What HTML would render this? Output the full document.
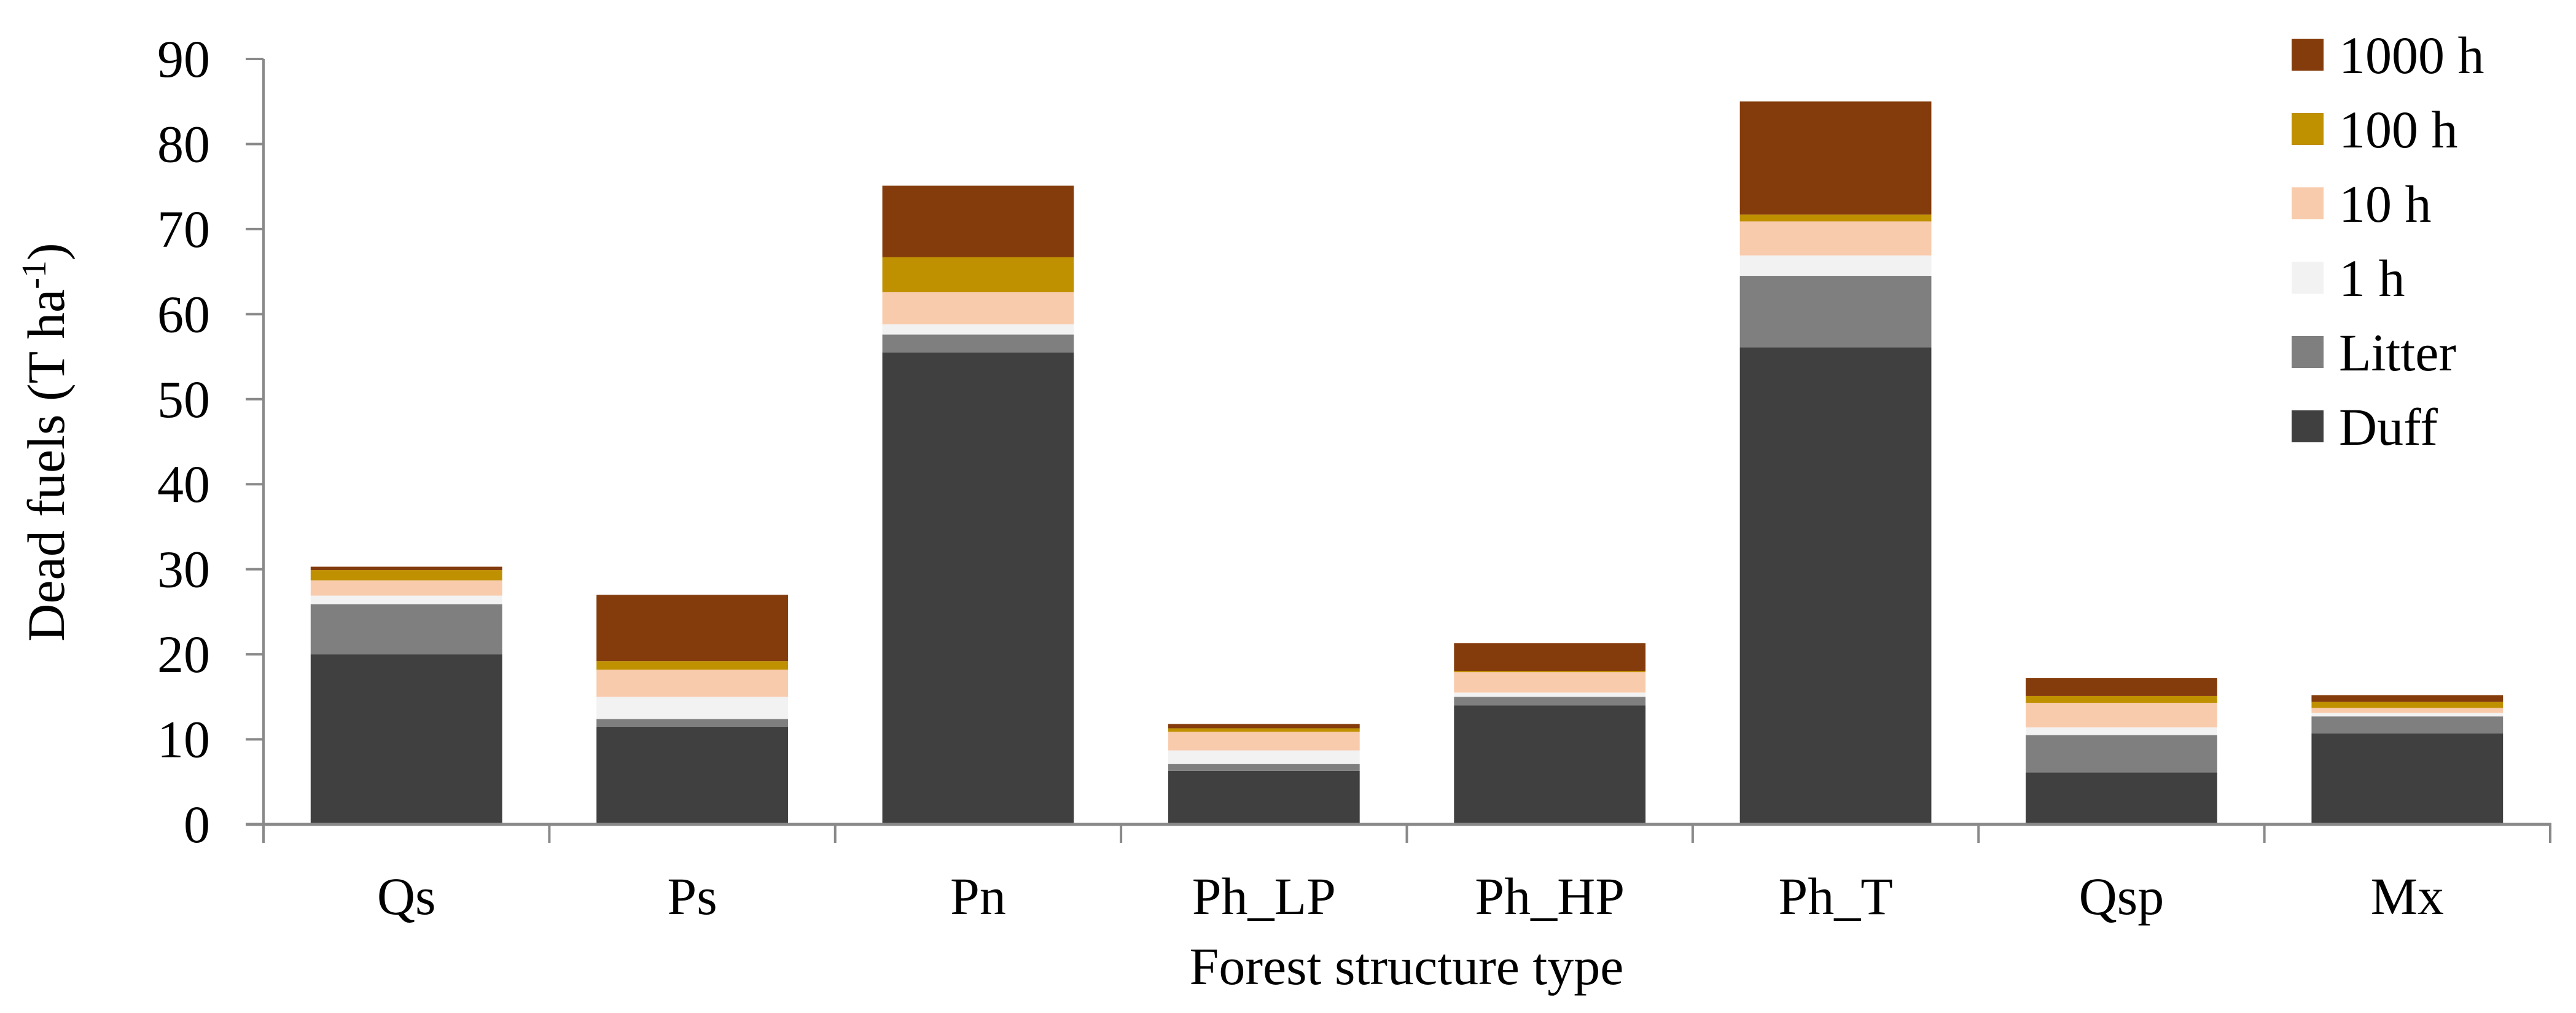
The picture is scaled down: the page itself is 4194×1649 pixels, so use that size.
<!DOCTYPE html>
<html><head><meta charset="utf-8"><style>
html,body{margin:0;padding:0;background:#fff;}
svg{display:block;font-family:"Liberation Serif",serif;}
</style></head><body>
<svg id="chart" width="4194" height="1649" viewBox="0 0 4194 1649" xmlns="http://www.w3.org/2000/svg">
<g id="bars"></g>
<g id="axes"></g>
<g id="legend"></g>
<text transform="translate(104,720) rotate(-90)" text-anchor="middle" font-size="86">Dead fuels (T  ha<tspan font-size="56" dy="-30">-1</tspan><tspan dy="30">)</tspan></text>
<text x="2290" y="1602" text-anchor="middle" font-size="86">Forest structure type</text>
</svg>
<script>
const categories = ["Qs","Ps","Pn","Ph_LP","Ph_HP","Ph_T","Qsp","Mx"];
const seriesNames = ["Duff","Litter","1 h","10 h","100 h","1000 h"];
const duff   = [20.0, 11.5, 55.5, 6.3, 14.0, 56.1, 6.1, 10.7];
const litter = [5.9, 0.9, 2.1, 0.8, 1.0, 8.4, 4.4, 2.0];
const oneH   = [1.0, 2.6, 1.2, 1.6, 0.5, 2.4, 0.9, 0.4];
const tenH   = [1.8, 3.2, 3.8, 2.2, 2.4, 4.0, 2.9, 0.6];
const hundredH = [1.2, 1.0, 4.1, 0.4, 0.15, 0.8, 0.8, 0.7];
const thousandH = [0.4, 7.8, 8.4, 0.5, 3.25, 13.3, 2.1, 0.8];
const yTicks = [0,10,20,30,40,50,60,70,80,90];
const series = [duff, litter, oneH, tenH, hundredH, thousandH];
const colors = ["#404040","#7f7f7f","#f2f2f2","#f8cbad","#bf9000","#843c0c"];

const NS="http://www.w3.org/2000/svg";
const X0=429, X1=4152, Y0=1342, Y90=96;
const bandW=(X1-X0)/categories.length;
const barW=bandW*0.67;
function yScale(v){return Y0-(v/90)*(Y0-Y90);}
function xBand(i){return X0+i*bandW;}
function mk(tag,attrs,parent){const e=document.createElementNS(NS,tag);for(const k in attrs)e.setAttribute(k,attrs[k]);parent.appendChild(e);return e;}

const gb=document.getElementById('bars');
categories.forEach((c,i)=>{
  let cum=0;
  series.forEach((s,j)=>{
    const v=s[i];
    const yTop=yScale(cum+v), yBot=yScale(cum);
    const r=mk('rect',{x:xBand(i)+(bandW-barW)/2,y:yTop,width:barW,height:Math.max(0,yBot-yTop),fill:colors[j]},gb);
    
    
    cum+=v;
  });
});

const ga=document.getElementById('axes');
const yl=mk('line',{x1:X0,y1:Y90,x2:X0,y2:Y0,stroke:'#898989','stroke-width':4},ga);


yTicks.forEach(t=>{
  const y=yScale(t);
  const tl=mk('line',{x1:400,y1:y,x2:X0,y2:y,stroke:'#898989','stroke-width':4},ga);
  
  
  const tx=mk('text',{x:342,y:y+29,'text-anchor':'end','font-size':86},ga);
  tx.textContent=t;
  
  
});
const xl=mk('line',{x1:400,y1:Y0,x2:X1+2,y2:Y0,stroke:'#898989','stroke-width':5},ga);


for(let i=0;i<=categories.length;i++){
  const x=xBand(i);
  const tk=mk('line',{x1:x,y1:Y0,x2:x,y2:1372,stroke:'#898989','stroke-width':4},ga);
  
  
}
categories.forEach((c,i)=>{
  const tx=mk('text',{x:xBand(i)+bandW/2,y:1488,'text-anchor':'middle','font-size':86},ga);
  tx.textContent=c;
  
  
});

const gl=document.getElementById('legend');
for(let k=0;k<6;k++){
  const j=5-k;
  const cy=89+k*121;
  const sw=mk('rect',{x:3731,y:cy-26,width:52,height:52,fill:colors[j]},gl);
  
  
  const tx=mk('text',{x:3808,y:cy+30,'font-size':86},gl);
  tx.textContent=seriesNames[j];
  
  
}
</script>
</body></html>
